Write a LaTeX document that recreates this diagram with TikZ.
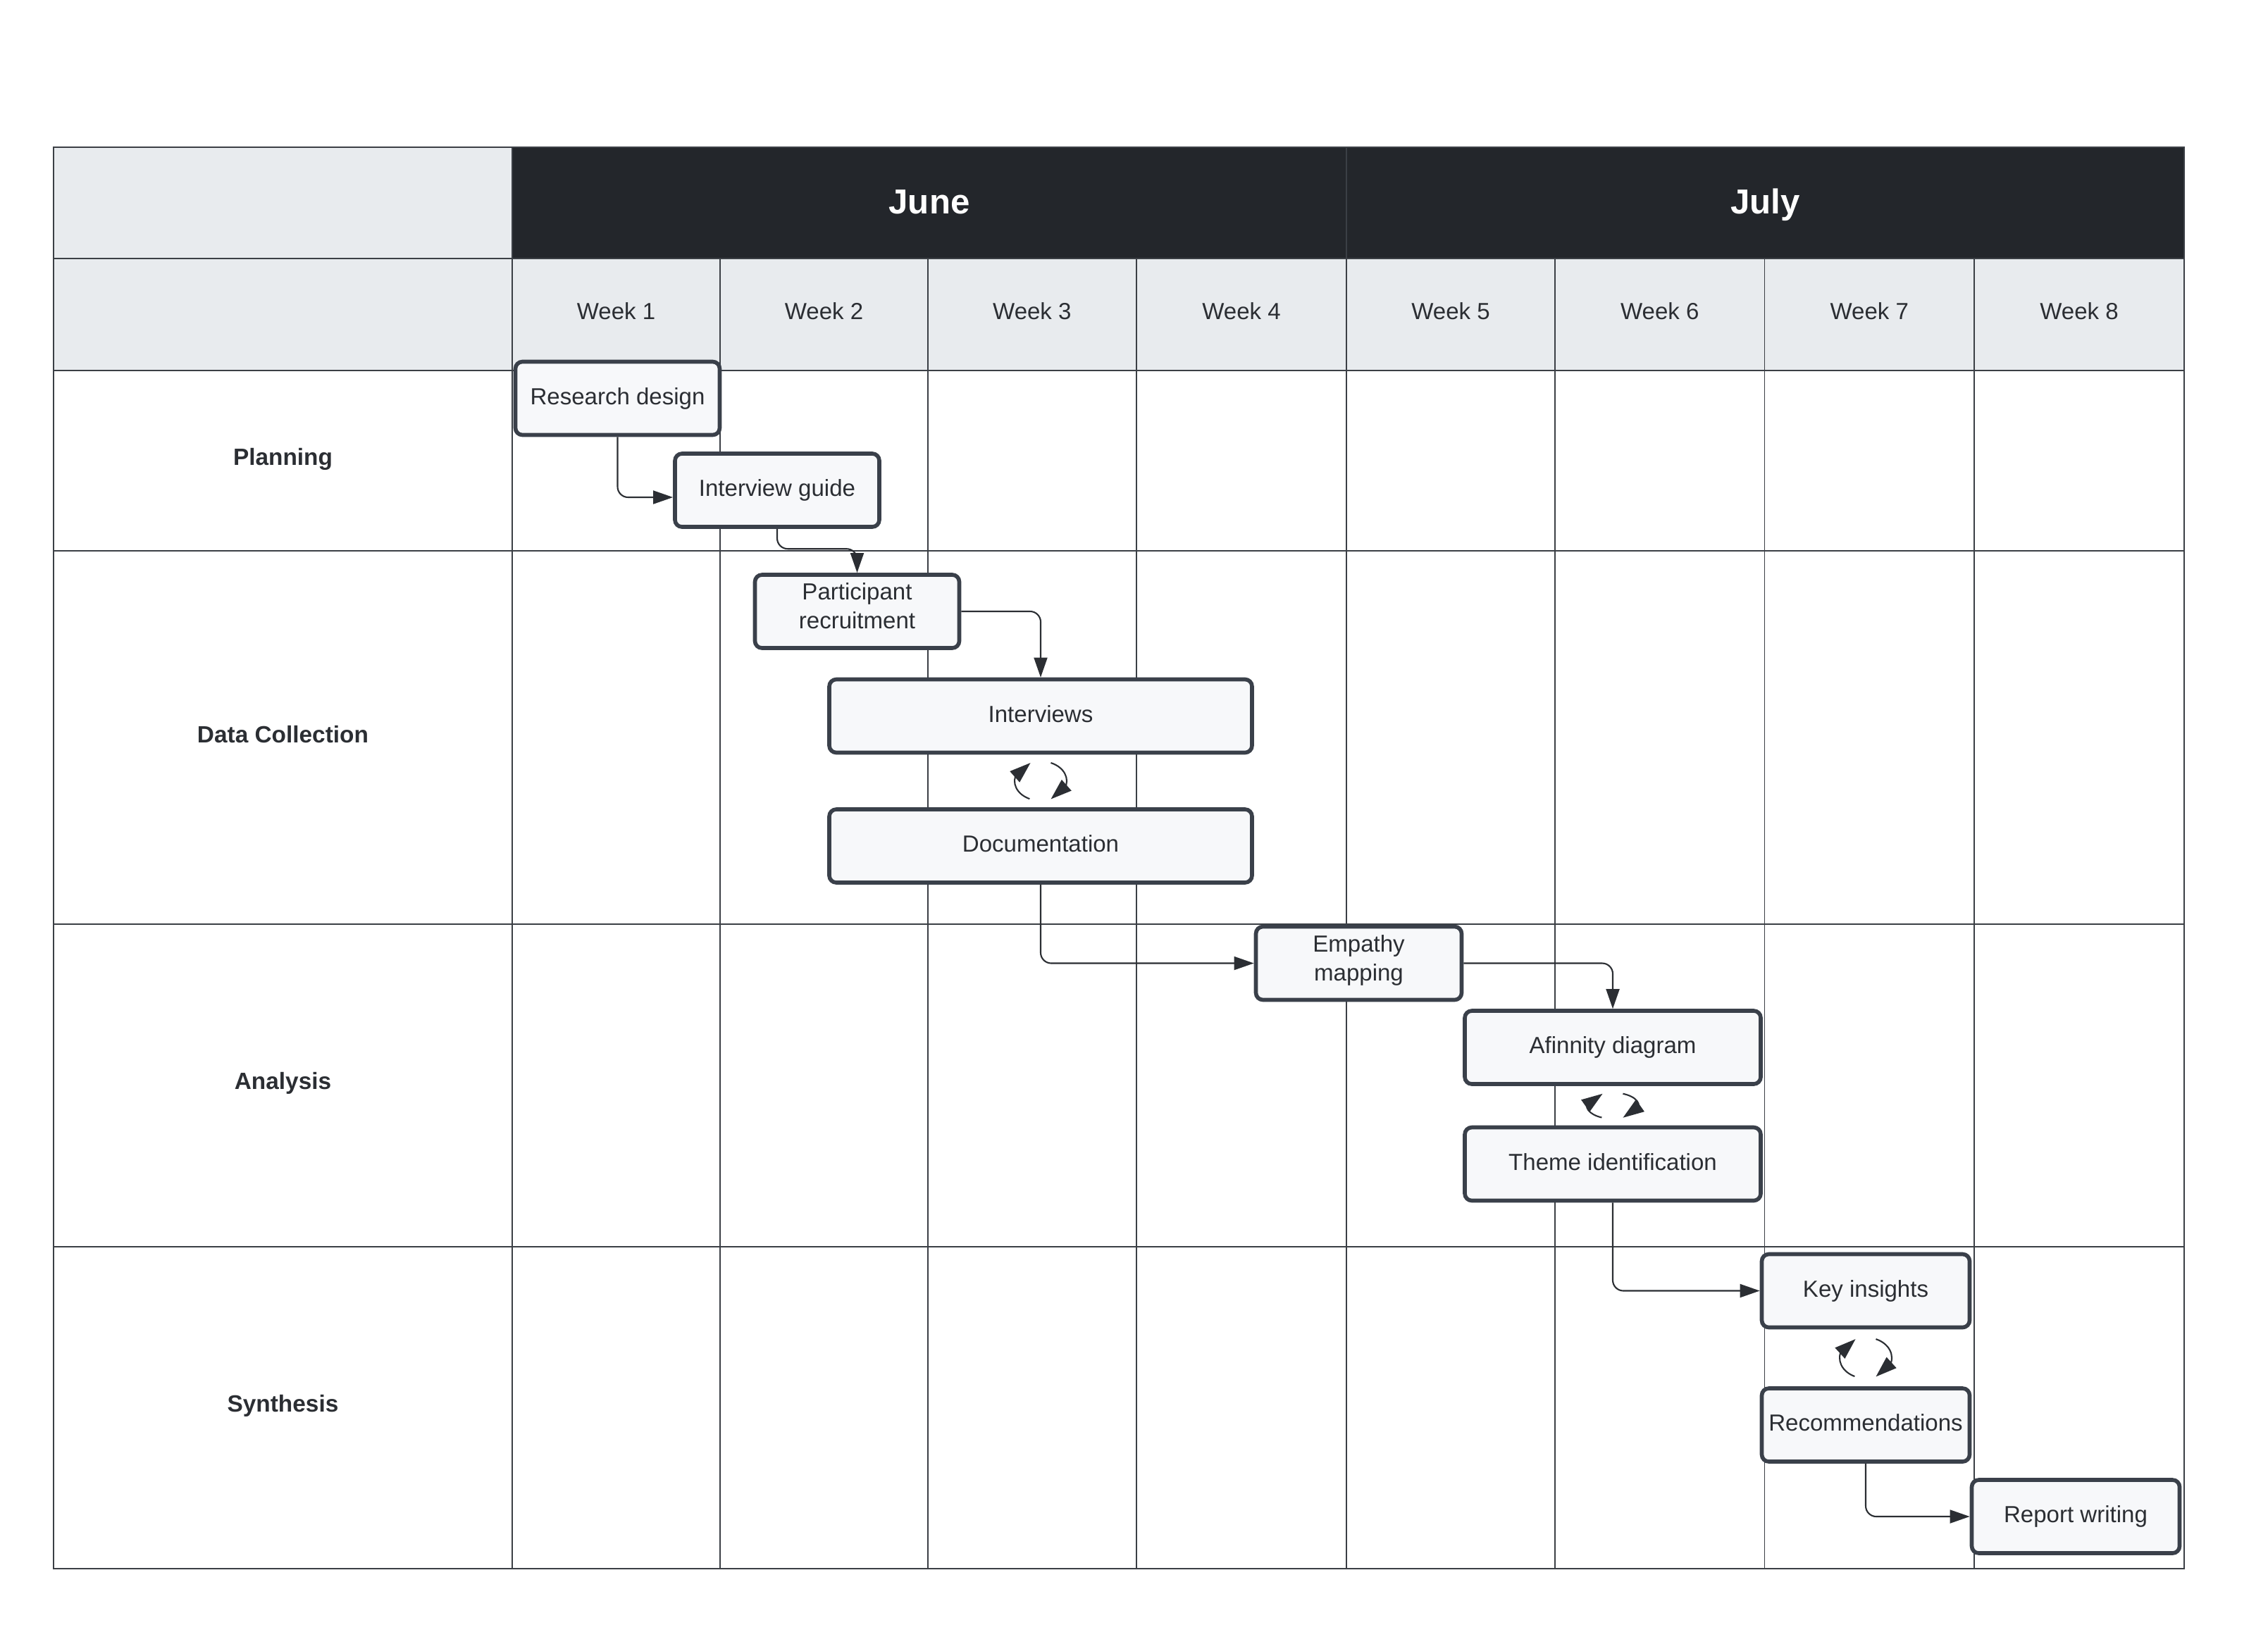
\documentclass[tikz,border=0pt]{standalone}
\usepackage{fontspec}
\setmainfont{Liberation Sans}
\usetikzlibrary{arrows.meta,bending,calc}

\definecolor{hdrdark}{HTML}{23262B}
\definecolor{hdrgray}{HTML}{E8EBEE}
\definecolor{gridcol}{HTML}{3B3F45}
\definecolor{boxline}{HTML}{3A404A}
\definecolor{boxfill}{HTML}{F7F8FA}
\definecolor{inkcol}{HTML}{2B2E33}

\newcommand{\twoline}[2]{\raisebox{0.4mm}[\height][\depth]{\begin{tabular}{@{}c@{}}#1\\#2\end{tabular}}}

\tikzset{
  task/.style={draw=boxline, fill=boxfill, line width=1.6pt, rounded corners=1mm,
    minimum width=#1, minimum height=1.04cm, inner sep=0pt, align=center,
    text=inkcol, font=\fontsize{9.4}{11.7}\selectfont},
  task/.default=2.9cm,
  single/.style={task=#1, text height=6.9pt, text depth=2pt},
  single/.default=2.9cm,
  link/.style={draw=inkcol, line width=0.6pt, rounded corners=1.5mm,
    -{Triangle[length=8pt,width=5.4pt]}},
  loopback/.style={draw=inkcol, line width=0.6pt, -{Triangle[length=8.5pt,width=5.8pt]}},
  gridline/.style={draw=gridcol, line width=0.5pt},
  weeklabel/.style={text=inkcol, font=\fontsize{9.4}{11}\selectfont},
  monthlabel/.style={text=white, text height=10.2pt, text depth=0pt,
    font=\bfseries\fontsize{14}{16}\selectfont},
  rowlabel/.style={text=inkcol, font=\bfseries\fontsize{9.5}{11}\selectfont},
}

\begin{document}
\begin{tikzpicture}
\useasboundingbox (0,0) rectangle (32.19,-23.06);

% header
\fill[hdrgray] (0.76,-2.09) rectangle (7.267,-5.26);
\fill[hdrgray] (7.267,-3.67) rectangle (31.0,-5.26);
\fill[hdrdark] (7.267,-2.09) rectangle (31.0,-3.67);

% grid
\foreach \y in {-3.67,-5.26,-7.82,-13.12,-17.70}
  \draw[gridline] (0.76,\y) -- (31.0,\y);
\foreach \x in {10.223,13.167,16.13,22.07,25.045,28.02}
  \draw[gridline] (\x,-3.67) -- (\x,-22.27);
\draw[gridline] (19.11,-2.09) -- (19.11,-22.27);
\draw[gridline] (7.267,-2.09) -- (7.267,-22.27);
\draw[gridline] (0.76,-2.09) rectangle (31.0,-22.27);

\node[monthlabel] (june) at (13.19,-2.86) {June};
\node[monthlabel] (july) at (25.055,-2.86) {July};
\foreach \i/\a/\b in {1/7.267/10.223,2/10.223/13.167,3/13.167/16.13,4/16.13/19.11,
                      5/19.11/22.07,6/22.07/25.045,7/25.045/28.02,8/28.02/31.0}
  \node[weeklabel] (wk\i) at ({(\a+\b)/2},-4.42) {Week \i};

\node[rowlabel] (planning) at (4.015,-6.52) {Planning};
\node[rowlabel] (collect) at (4.015,-10.43) {Data Collection};
\node[rowlabel] (analysis) at (4.015,-15.38) {Analysis};
\node[rowlabel] (synthesis) at (4.015,-19.96) {Synthesis};

% tasks
\node[single] (rd) at (8.765,-5.655) {Research design};
\node[single] (ig) at (11.03,-6.96) {Interview guide};
\node[task] (pr) at (12.165,-8.68) {\twoline{Participant}{recruitment}};
\node[single=6.0cm] (iv) at (14.77,-10.165) {Interviews};
\node[single=6.0cm] (doc) at (14.77,-12.01) {Documentation};
\node[task=2.92cm] (em) at (19.285,-13.675) {\twoline{Empathy}{mapping}};
\node[single=4.2cm] (ad) at (22.89,-14.87) {Afinnity diagram};
\node[single=4.2cm] (ti) at (22.89,-16.525) {Theme identification};
\node[single=2.95cm] (ki) at (26.48,-18.325) {Key insights};
\node[single=2.95cm] (rec) at (26.48,-20.23) {Recommendations};
\node[single=2.95cm] (rw) at (29.46,-21.53) {Report writing};

% connectors
\draw[link] (rd.south) |- ([yshift=-1mm]ig.west);
\draw[link] (ig.south) |- ([yshift=3.4mm]pr.north) -- (pr.north);
\draw[link] (pr.east) -| (iv.north);
\draw[link] (doc.south) |- (em.west);
\draw[link] (em.east) -| (ad.north);
\draw[link] (ti.south) |- (ki.west);
\draw[link] (rec.south) |- (rw.west);

% iteration loops
\coordinate (c1) at ($(iv.south)!0.5!(doc.north)$);
\coordinate (c2) at ($(ad.south)!0.5!(ti.north)$);
\coordinate (c3) at ($(ki.south)!0.5!(rec.north)$);
\foreach \c/\ry in {c1/0.28,c2/0.185,c3/0.29} {
  \draw[loopback] ($(\c)+(245:0.37 and \ry)$) arc[start angle=245, end angle=113, x radius=0.37, y radius=\ry];
  \draw[loopback] ($(\c)+(67:0.37 and \ry)$) arc[start angle=67, end angle=-67, x radius=0.37, y radius=\ry];
}
\end{tikzpicture}
\end{document}
